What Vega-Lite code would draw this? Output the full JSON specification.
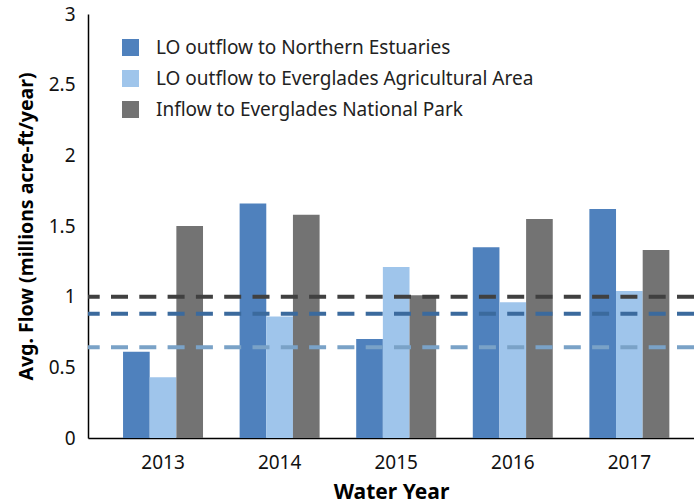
{
  "$schema": "https://vega.github.io/schema/vega-lite/v6.json",
  "width": 606,
  "height": 424,
  "autosize": {"type": "none"},
  "padding": {"left": 88, "top": 14, "right": 0, "bottom": 66},
  "config": {
    "view": {"stroke": null},
    "font": "Noto Sans",
    "axis": {"grid": false, "ticks": false, "domainColor": "#000", "domainWidth": 1.5, "labelColor": "#111", "titleColor": "#000", "labelFont": "Noto Sans", "titleFont": "Noto Sans"}
  },
  "layer": [
    {
      "data": {"values": [
        {"year": "2013", "series": "LO outflow to Northern Estuaries", "flow": 0.61},
        {"year": "2013", "series": "LO outflow to Everglades Agricultural Area", "flow": 0.43},
        {"year": "2013", "series": "Inflow to Everglades National Park", "flow": 1.50},
        {"year": "2014", "series": "LO outflow to Northern Estuaries", "flow": 1.66},
        {"year": "2014", "series": "LO outflow to Everglades Agricultural Area", "flow": 0.86},
        {"year": "2014", "series": "Inflow to Everglades National Park", "flow": 1.58},
        {"year": "2015", "series": "LO outflow to Northern Estuaries", "flow": 0.70},
        {"year": "2015", "series": "LO outflow to Everglades Agricultural Area", "flow": 1.21},
        {"year": "2015", "series": "Inflow to Everglades National Park", "flow": 1.01},
        {"year": "2016", "series": "LO outflow to Northern Estuaries", "flow": 1.35},
        {"year": "2016", "series": "LO outflow to Everglades Agricultural Area", "flow": 0.96},
        {"year": "2016", "series": "Inflow to Everglades National Park", "flow": 1.55},
        {"year": "2017", "series": "LO outflow to Northern Estuaries", "flow": 1.62},
        {"year": "2017", "series": "LO outflow to Everglades Agricultural Area", "flow": 1.04},
        {"year": "2017", "series": "Inflow to Everglades National Park", "flow": 1.33}
      ]},
      "mark": {"type": "bar"},
      "encoding": {
        "x": {
          "field": "year", "type": "nominal",
          "scale": {"paddingInner": 0.314, "paddingOuter": 0.256, "align": 0.587},
          "axis": {"title": "Water Year", "labelAngle": 0, "labelFontSize": 19, "labelPadding": 15, "titleFontSize": 21, "titleFontWeight": "bold", "titlePadding": 9}
        },
        "xOffset": {
          "field": "series", "type": "nominal",
          "sort": ["LO outflow to Northern Estuaries", "LO outflow to Everglades Agricultural Area", "Inflow to Everglades National Park"],
          "scale": {"paddingInner": 0, "paddingOuter": 0}
        },
        "y": {
          "field": "flow", "type": "quantitative",
          "scale": {"domain": [0, 3], "nice": false},
          "axis": {"title": "Avg. Flow (millions acre-ft/year)", "values": [0, 0.5, 1, 1.5, 2, 2.5, 3], "format": "~g", "labelFontSize": 19, "labelPadding": 13, "titleFontSize": 19.5, "titleFontWeight": "bold", "titlePadding": 12}
        },
        "color": {
          "field": "series", "type": "nominal",
          "scale": {
            "domain": ["LO outflow to Northern Estuaries", "LO outflow to Everglades Agricultural Area", "Inflow to Everglades National Park"],
            "range": ["#4f81bd", "#9fc5eb", "#737373"]
          },
          "legend": {
            "title": null, "orient": "none", "legendX": 33, "legendY": 24,
            "symbolType": "square", "symbolSize": 289, "symbolStrokeWidth": 0, "symbolOpacity": 1,
            "labelFontSize": 19, "labelColor": "#222", "labelFont": "Noto Sans", "labelOffset": 16, "rowPadding": 11, "labelLimit": 500
          }
        }
      }
    },
    {
      "data": {"values": [
        {"series": "Inflow to Everglades National Park", "ref": 1.0},
        {"series": "LO outflow to Northern Estuaries", "ref": 0.88},
        {"series": "LO outflow to Everglades Agricultural Area", "ref": 0.642}
      ]},
      "mark": {"type": "rule", "strokeWidth": 4, "strokeDash": [17, 11.3]},
      "encoding": {
        "y": {"field": "ref", "type": "quantitative"},
        "color": {
          "field": "series", "type": "nominal",
          "scale": {
            "domain": ["Inflow to Everglades National Park", "LO outflow to Northern Estuaries", "LO outflow to Everglades Agricultural Area"],
            "range": ["#404040", "#3b6a9d", "#7aa2c7"]
          },
          "legend": null
        }
      }
    }
  ],
  "resolve": {"scale": {"color": "independent"}}
}
